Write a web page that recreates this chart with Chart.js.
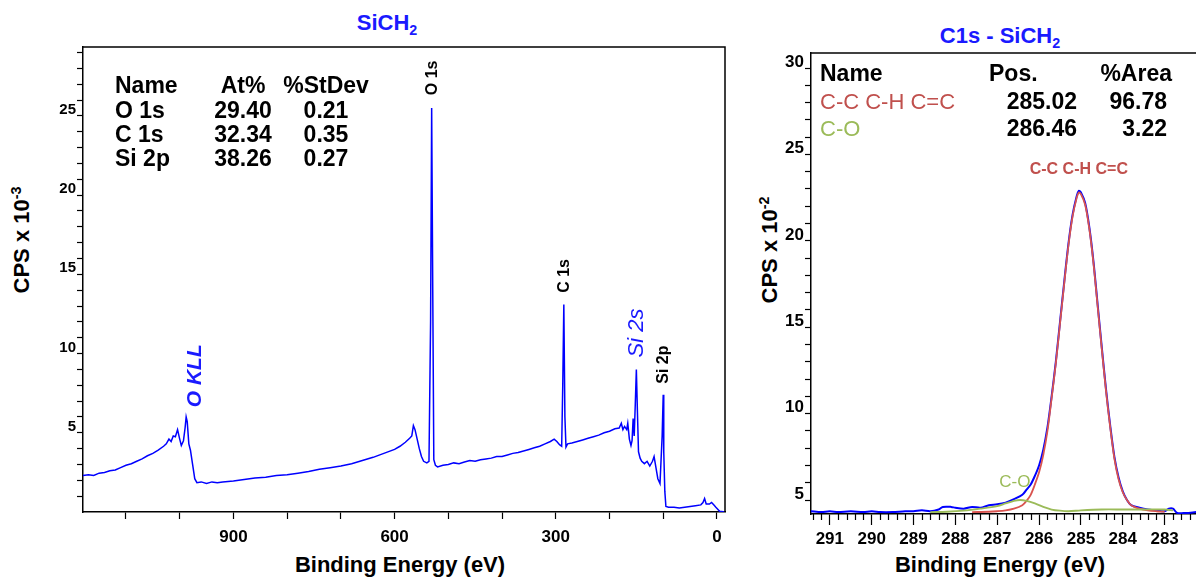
<!DOCTYPE html>
<html>
<head>
<meta charset="utf-8">
<script src="https://cdn.jsdelivr.net/npm/chart.js@4.4.1/dist/chart.umd.min.js"></script>
<style>
  body { margin: 0; background: #fff; width: 1196px; height: 581px; overflow: hidden; position: relative;
         font-family: "Liberation Sans", Arial, sans-serif; }
  canvas { position: absolute; top: 0; }
  #survey { left: 0; }
  #c1s { left: 745px; }
  .lbl { position: absolute; font-weight: bold; white-space: nowrap; line-height: 1; transform: translate(-50%, -50%); }
  .rot { transform: translate(-50%, -50%) rotate(-90deg); }
  .blue { color: #1a1aff; }
  sub, sup { font-size: 65%; line-height: 0; }
</style>
</head>
<body>
<div class="lbl blue" style="left:387px;top:23px;font-size:22px">SiCH<sub>2</sub></div>
<div class="lbl blue" style="left:1000px;top:36px;font-size:22px">C1s - SiCH<sub>2</sub></div>
<div class="lbl rot" style="left:22px;top:240px;font-size:22px">CPS x 10<sup>-3</sup></div>
<div class="lbl rot" style="left:770px;top:250px;font-size:22px">CPS x 10<sup>-2</sup></div>
<div class="lbl" style="left:400px;top:565px;font-size:22px">Binding Energy (eV)</div>
<div class="lbl" style="left:1000px;top:565px;font-size:22px">Binding Energy (eV)</div>

<canvas id="survey" width="745" height="581"></canvas>
<canvas id="c1s" width="451" height="581"></canvas>

<script>
// ---- survey spectrum: binding energy (eV) / CPS x 10^-3 ----
const surveyEnergy = [
  1180, 1170, 1160, 1150, 1140, 1130, 1120, 1110, 1100, 1090, 1080, 1070, 1060, 1050, 1040, 1030,
  1025, 1020, 1016, 1012, 1008, 1004, 1000, 997, 993, 990, 988, 986, 983, 980, 976, 972, 968,
  960, 950, 940, 930, 920, 900, 880, 860, 840, 820, 800, 780, 760, 740, 720, 700, 680, 660, 640,
  620, 600, 590, 580, 572, 568, 565, 562, 558, 554, 550, 546, 540, 536, 533, 531, 529, 527, 524,
  520, 510, 500, 490, 480, 470, 460, 450, 440, 430, 420, 410, 400, 390, 380, 370, 360, 350, 340,
  330, 320, 310, 303, 298, 293, 289, 287, 285, 283, 281, 278, 270, 260, 250, 240, 230, 220, 210,
  200, 190, 182, 178, 175, 172, 168, 166, 163, 160, 158, 156, 154, 152, 150, 148, 146, 143, 140,
  135, 130, 125, 120, 117, 114, 110, 106, 104, 102, 100, 99, 97, 95, 90, 80, 70, 60, 50, 40, 30,
  26, 23, 20, 14, 10, 6, 2, -5, -15
];
const surveyCps = [
  2.3, 2.35, 2.3, 2.45, 2.5, 2.6, 2.65, 2.8, 2.95, 3.05, 3.2, 3.35, 3.55, 3.7, 3.9, 4.15,
  4.3, 4.6, 4.45, 4.8, 4.75, 5.2, 4.6, 4.2, 4.5, 5.3, 6.0, 5.7, 4.3, 3.9, 3.0, 2.1, 1.85,
  1.9, 1.8, 1.9, 1.85, 1.9, 1.95, 2.05, 2.15, 2.2, 2.3, 2.35, 2.45, 2.55, 2.7, 2.8, 2.9, 3.05, 3.25, 3.45,
  3.7, 3.95, 4.15, 4.4, 4.65, 4.8, 5.45, 5.2, 4.6, 4.0, 3.5, 3.2, 3.1, 3.2, 12, 25.5, 14, 3.3, 2.95,
  2.85, 2.95, 3.0, 3.1, 3.05, 3.15, 3.25, 3.2, 3.3, 3.35, 3.4, 3.5, 3.5, 3.6, 3.7, 3.75, 3.85, 3.95, 4.05,
  4.15, 4.3, 4.45, 4.6, 4.45, 4.25, 4.15, 8, 13.1, 6, 4.1, 4.3, 4.35, 4.45, 4.55, 4.65, 4.75, 4.85, 5.0,
  5.1, 5.25, 5.3, 5.6, 5.2, 5.4, 5.2, 5.6, 4.6, 4.2, 4.5, 5.9, 4.8, 6.8, 9.0, 6.3, 3.8, 3.4, 3.2,
  3.05, 3.2, 2.9, 3.2, 3.5, 2.9, 2.1, 1.8, 3.3, 4.8, 7.4, 3.8, 1.3, 0.35, 0.3, 0.3, 0.25, 0.3, 0.35, 0.4, 0.45,
  0.6, 0.85, 0.5, 0.5, 0.6, 0.45, 0.3, 0.05, 0
];
const surveyXTicks = [1100, 1000, 900, 800, 700, 600, 500, 400, 300, 200, 100, 0];
const surveyXLabelled = [900, 600, 300, 0];
const surveyYTicks = [1, 2, 3, 4, 5, 6, 7, 8, 9, 10, 11, 12, 13, 14, 15, 16, 17, 18, 19, 20, 21, 22, 23, 24, 25, 26, 27, 28, 29];
const surveyYLabelled = [5, 10, 15, 20, 25];

// quantification table of the survey
const surveyNames = ['O 1s', 'C 1s', 'Si 2p'];
const surveyAtPct = ['29.40', '32.34', '38.26'];
const surveyStDev = ['0.21', '0.35', '0.27'];

// peak labels: text, energy, height of label centre
const surveyPeakText = ['O 1s', 'C 1s', 'Si 2s', 'Si 2p', 'O KLL'];
const surveyPeakEnergy = [530, 283, 149, 99, 971];
const surveyPeakLabelY = [27.4, 14.9, 11.3, 9.3, 8.6];

// ---- C1s high resolution: binding energy (eV) / CPS x 10^-2 ----
const c1sEnergy = [
  291.45, 291.2, 291.0, 290.8, 290.5, 290.2, 290.0, 289.8, 289.5, 289.2, 289.0, 288.8, 288.6, 288.4,
  288.3, 288.1, 288.0, 287.8, 287.6, 287.4, 287.2, 287.0, 286.8, 286.6, 286.4, 286.3, 286.2, 286.1,
  286.0, 285.9, 285.8, 285.7, 285.6, 285.5, 285.4, 285.3, 285.2, 285.1, 285.05, 285.0, 284.9, 284.8,
  284.7, 284.6, 284.5, 284.4, 284.3, 284.2, 284.1, 284.0, 283.9, 283.8, 283.6, 283.4, 283.2, 283.0,
  282.9, 282.8, 282.7, 282.5, 282.25
];
const c1sEnvelope = [
  4.35, 4.3, 4.35, 4.3, 4.35, 4.3, 4.35, 4.3, 4.3, 4.35, 4.35, 4.4, 4.35, 4.45,
  4.6, 4.6, 4.55, 4.5, 4.6, 4.55, 4.7, 4.75, 4.85, 5.05, 5.3, 5.6, 5.9, 6.4,
  7.0, 7.9, 9.2, 11.0, 13.0, 15.3, 17.6, 19.8, 21.5, 22.6, 22.9, 22.8, 22.2, 20.8,
  18.8, 16.3, 13.8, 11.4, 9.3, 7.5, 6.3, 5.5, 5.0, 4.7, 4.55, 4.45, 4.4, 4.35,
  4.5, 4.5, 4.25, 4.25, 4.3
];
const ccEnergy = [
  287.6, 287.2, 287.0, 286.8, 286.6, 286.4, 286.3, 286.2, 286.1, 286.0, 285.9, 285.8, 285.7, 285.6,
  285.5, 285.4, 285.3, 285.2, 285.1, 285.05, 285.0, 284.9, 284.8, 284.7, 284.6, 284.5, 284.4, 284.3,
  284.2, 284.1, 284.0, 283.9, 283.8, 283.6, 283.4, 283.2, 283.0
];
const ccCps = [
  4.3, 4.32, 4.35, 4.4, 4.5, 4.7, 4.95, 5.3, 5.9, 6.6, 7.6, 9.0, 10.9, 12.9,
  15.2, 17.5, 19.7, 21.4, 22.5, 22.8, 22.7, 22.1, 20.7, 18.7, 16.2, 13.7, 11.3, 9.2,
  7.4, 6.2, 5.45, 5.0, 4.7, 4.5, 4.4, 4.35, 4.32
];
const coEnergy = [
  288.6, 288.2, 287.8, 287.4, 287.0, 286.8, 286.6, 286.45, 286.3, 286.1, 285.9, 285.7, 285.5,
  285.3, 285.0, 284.5, 284.0, 283.5, 283.0, 282.8
];
const coCps = [
  4.3, 4.32, 4.38, 4.5, 4.65, 4.8, 4.95, 5.0, 4.95, 4.8, 4.6, 4.45, 4.38,
  4.35, 4.4, 4.45, 4.45, 4.45, 4.45, 4.4
];
const c1sXTicks = [291, 290, 289, 288, 287, 286, 285, 284, 283];
const c1sYTicks = [5, 6, 7, 8, 9, 10, 11, 12, 13, 14, 15, 16, 17, 18, 19, 20, 21, 22, 23, 24, 25, 26, 27, 28, 29, 30];
const c1sYLabelled = [5, 10, 15, 20, 25, 30];

// fit table
const c1sNames = ['C-C C-H C=C', 'C-O'];
const c1sPos = ['285.02', '286.46'];
const c1sArea = ['96.78', '3.22'];

const FONT = '"Liberation Sans", Arial, sans-serif';
const TABLE_FONT = 'bold 23px ' + FONT;
const RED = '#d9534f';
const RED_TEXT = '#c0504d';
const GREEN = '#9bbb59';
const BLUE = '#0000ff';

Chart.defaults.font.family = FONT;
Chart.defaults.color = '#000';

const toPoints = (xs, ys) => xs.map((x, i) => ({ x, y: ys[i] }));

// draws the peak labels, tables, frame and minor ticks
const annotate = {
  id: 'annotate',
  beforeDatasetsDraw(chart, args, opts) {
    const { ctx, chartArea, scales: { x, y } } = chart;
    ctx.save();
    ctx.textAlign = 'center';
    ctx.textBaseline = 'middle';
    (opts.labels || []).forEach((l) => {
      ctx.save();
      ctx.font = l.font;
      ctx.fillStyle = l.color;
      ctx.translate(x.getPixelForValue(l.x), y.getPixelForValue(l.y));
      if (l.vertical) ctx.rotate(-Math.PI / 2);
      ctx.fillText(l.text, 0, 0);
      ctx.restore();
    });
    ctx.textBaseline = 'alphabetic';
    (opts.table || []).forEach((c) => {
      ctx.font = c.font;
      ctx.fillStyle = c.color || '#000';
      ctx.textAlign = c.align || 'left';
      ctx.fillText(c.text, chartArea.left + c.dx, chartArea.top + c.dy);
    });
    ctx.restore();
  },
  afterDraw(chart, args, opts) {
    const { ctx, chartArea, scales: { x } } = chart;
    ctx.save();
    ctx.strokeStyle = '#000';
    ctx.lineWidth = 1.5;
    ctx.beginPath();
    ctx.moveTo(chartArea.left, chartArea.top);
    ctx.lineTo(chartArea.right, chartArea.top);
    if (opts.rightBorder) ctx.lineTo(chartArea.right, chartArea.bottom);
    ctx.stroke();
    if (opts.minorStep) {
      ctx.lineWidth = 1.2;
      ctx.beginPath();
      const n = Math.round((x.max - x.min) / opts.minorStep);
      for (let i = 0; i <= n; i++) {
        const v = Math.round((Math.ceil(x.min / opts.minorStep) + i) * opts.minorStep * 10) / 10;
        if (v > x.max || Number.isInteger(v)) continue;
        const px = Math.round(x.getPixelForValue(v)) + 0.5;
        ctx.moveTo(px, chartArea.bottom);
        ctx.lineTo(px, chartArea.bottom + 6);
      }
      ctx.stroke();
    }
    ctx.restore();
  }
};

function axisOpts(ticks, labelled, fontSize, tickLength, padding, labelOffset, extra) {
  return Object.assign({
    type: 'linear',
    afterBuildTicks: (scale) => { scale.ticks = ticks.map((v) => ({ value: v })); },
    grid: { display: true, drawOnChartArea: false, drawTicks: true, tickLength, color: '#000', tickWidth: 1.2 },
    border: { display: true, color: '#000', width: 1.5 },
    ticks: {
      autoSkip: false,
      maxRotation: 0,
      padding,
      labelOffset,
      color: '#000',
      font: { size: fontSize, weight: 'bold' },
      callback: (v) => (labelled.includes(v) ? String(v) : '')
    }
  }, extra);
}

// ---- left chart: survey ----
const surveyTable = [
  { text: 'Name', dx: 32, dy: 46, font: TABLE_FONT },
  { text: 'At%', dx: 160, dy: 46, align: 'center', font: TABLE_FONT },
  { text: '%StDev', dx: 243, dy: 46, align: 'center', font: TABLE_FONT }
];
surveyNames.forEach((name, i) => {
  const dy = 71 + i * 24;
  surveyTable.push({ text: name, dx: 32, dy, font: TABLE_FONT });
  surveyTable.push({ text: surveyAtPct[i], dx: 160, dy, align: 'center', font: TABLE_FONT });
  surveyTable.push({ text: surveyStDev[i], dx: 243, dy, align: 'center', font: TABLE_FONT });
});

const surveyLabelStyle = [
  { font: 'bold 16px ' + FONT, color: '#000' },
  { font: 'bold 16px ' + FONT, color: '#000' },
  { font: 'italic 22px ' + FONT, color: '#1a1aff' },
  { font: 'bold 16px ' + FONT, color: '#000' },
  { font: 'bold italic 21px ' + FONT, color: '#1a1aff' }
];
const surveyLabels = surveyPeakText.map((text, i) => Object.assign({
  text, x: surveyPeakEnergy[i], y: surveyPeakLabelY[i], vertical: true
}, surveyLabelStyle[i]));

new Chart(document.getElementById('survey'), {
  type: 'line',
  data: {
    datasets: [{
      data: toPoints(surveyEnergy, surveyCps),
      borderColor: BLUE,
      borderWidth: 1.5,
      pointRadius: 0,
      tension: 0
    }]
  },
  options: {
    responsive: false,
    animation: false,
    layout: { padding: { top: 47, right: 20, left: 0, bottom: 0 } },
    plugins: {
      legend: { display: false },
      tooltip: { enabled: false },
      annotate: { labels: surveyLabels, table: surveyTable, rightBorder: true }
    },
    scales: {
      x: axisOpts(surveyXTicks, surveyXLabelled, 17, 7, 8, 0, {
        reverse: true, min: -15, max: 1180,
        afterFit: (s) => { s.height = 69; }
      }),
      y: axisOpts(surveyYTicks, surveyYLabelled, 15, 6, 1, -6, {
        min: 0, max: 29.35,
        afterFit: (s) => { s.width = 83; }
      })
    }
  },
  plugins: [annotate]
});
</script>
<script>
// ---- right chart: C1s ----
const c1sTable = [
  { text: 'Name', dx: 9, dy: 28, font: TABLE_FONT },
  { text: 'Pos.', dx: 178, dy: 28, font: TABLE_FONT },
  { text: '%Area', dx: 361, dy: 28, align: 'right', font: TABLE_FONT }
];
const c1sNameColors = [RED_TEXT, GREEN];
c1sNames.forEach((name, i) => {
  const dy = 56 + i * 27;
  c1sTable.push({ text: name, dx: 9, dy, color: c1sNameColors[i], font: '22px ' + FONT });
  c1sTable.push({ text: c1sPos[i], dx: 266, dy, align: 'right', font: TABLE_FONT });
  c1sTable.push({ text: c1sArea[i], dx: 356, dy, align: 'right', font: TABLE_FONT });
});

const c1sLabels = [
  { text: c1sNames[0], x: 285.05, y: 24.1, font: 'bold 16px ' + FONT, color: RED_TEXT },
  { text: c1sNames[1], x: 286.58, y: 6.0, font: '17px ' + FONT, color: GREEN }
];

new Chart(document.getElementById('c1s'), {
  type: 'line',
  data: {
    datasets: [
      { data: toPoints(coEnergy, coCps), borderColor: GREEN, borderWidth: 1.8, pointRadius: 0, tension: 0.3 },
      { data: toPoints(ccEnergy, ccCps), borderColor: RED, borderWidth: 1.8, pointRadius: 0, tension: 0.3 },
      { data: toPoints(c1sEnergy, c1sEnvelope), borderColor: BLUE, borderWidth: 2, pointRadius: 0, tension: 0.3 }
    ]
  },
  options: {
    responsive: false,
    animation: false,
    layout: { padding: { top: 53, right: 0, left: 0, bottom: 0 } },
    plugins: {
      legend: { display: false },
      tooltip: { enabled: false },
      annotate: { labels: c1sLabels, table: c1sTable, minorStep: 0.2 }
    },
    scales: {
      x: axisOpts(c1sXTicks, c1sXTicks, 17, 11, 4, 0, {
        reverse: true, min: 282.25, max: 291.45,
        afterFit: (s) => { s.height = 67; }
      }),
      y: axisOpts(c1sYTicks, c1sYLabelled, 17, 6, 1, -6, {
        min: 4.19, max: 30.87,
        afterFit: (s) => { s.width = 66; }
      })
    }
  },
  plugins: [annotate]
});
</script>
</body>
</html>
